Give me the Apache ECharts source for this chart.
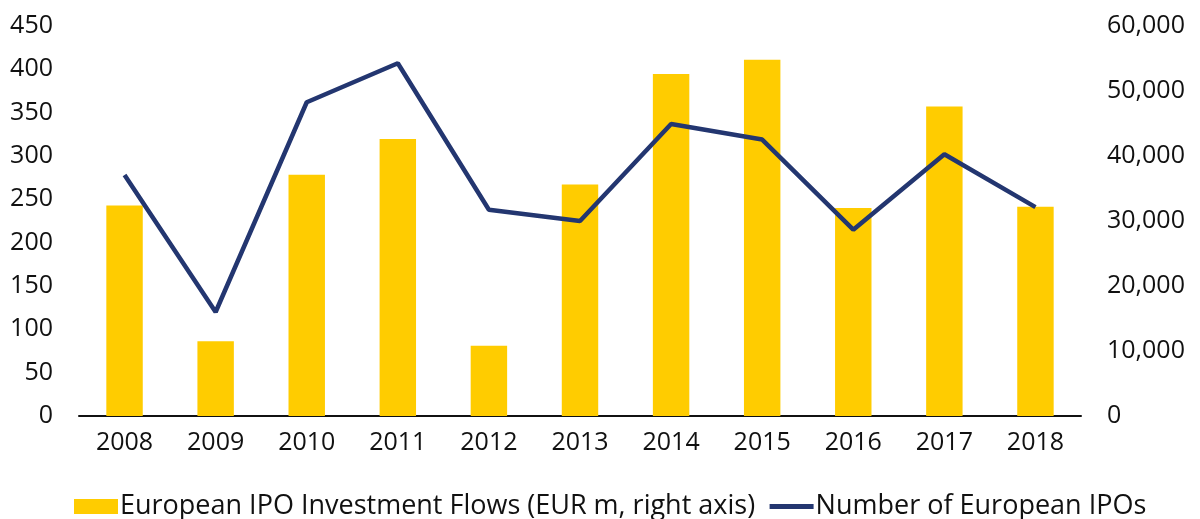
<!DOCTYPE html>
<html>
<head>
    <meta charset="UTF-8">
    <title>European IPOs</title>
    <style>
        * {
            margin: 0;
            padding: 0
        }

        #chart {
            width: 1200px;
            height: 519px;
        }
    </style>
</head>
<body>
<div id="chart"></div>
<script type="text/javascript" src="https://cdn.jsdelivr.net/npm/echarts@6/dist/echarts.min.js"></script>
<script type="text/javascript">
    // 年份
    var years = ['2008', '2009', '2010', '2011', '2012', '2013', '2014', '2015', '2016', '2017', '2018'];
    // 投资额 EUR m（右轴）
    var flows = [32400, 11500, 37100, 42600, 10800, 35600, 52600, 54800, 32000, 47600, 32200];
    // IPO 数量（左轴）
    var ipoCount = [278, 120, 362, 407, 238, 225, 337, 319, 215, 302, 241];

    var flowsName = 'European IPO Investment Flows (EUR m, right axis)';
    var countName = 'Number of European IPOs';

    var font = 'Open Sans';
    var myChart = echarts.init(document.getElementById('chart'));

    var option = {
        animation: false,
        textStyle: {
            fontFamily: font
        },
        grid: {
            left: 79,
            right: 119,
            top: 26,
            bottom: 103
        },
        legend: {
            left: 69,
            top: 488,
            itemWidth: 44,
            itemHeight: 15,
            itemGap: 12,
            textStyle: {
                fontFamily: font,
                fontSize: 27,
                color: '#111',
                padding: [0, 0, 0, -3]
            },
            data: [
                {name: flowsName, icon: 'rect'},
                {name: countName, itemStyle: {opacity: 0}, lineStyle: {width: 5}}
            ]
        },
        xAxis: {
            type: 'category',
            data: years,
            axisLine: {
                lineStyle: {color: '#111', width: 2}
            },
            axisTick: {show: false},
            axisLabel: {
                color: '#111',
                fontSize: 25,
                margin: 14
            }
        },
        yAxis: [
            {
                type: 'value',
                min: 0,
                max: 450,
                interval: 50,
                splitLine: {show: false},
                axisLine: {show: false},
                axisTick: {show: false},
                axisLabel: {
                    color: '#111',
                    fontSize: 25,
                    margin: 26
                }
            },
            {
                type: 'value',
                min: 0,
                max: 60000,
                interval: 10000,
                splitLine: {show: false},
                axisLine: {show: false},
                axisTick: {show: false},
                axisLabel: {
                    color: '#111',
                    fontSize: 25,
                    margin: 26,
                    formatter: function (v) {
                        return v.toLocaleString('en-US');
                    }
                }
            }
        ],
        series: [
            {
                name: flowsName,
                type: 'bar',
                yAxisIndex: 1,
                data: flows,
                barWidth: '40%',
                itemStyle: {color: '#FFCC00'}
            },
            {
                name: countName,
                type: 'line',
                yAxisIndex: 0,
                data: ipoCount,
                symbol: 'none',
                lineStyle: {color: '#233670', width: 4.5},
                itemStyle: {color: '#233670'}
            }
        ]
    };

    myChart.setOption(option);
</script>
</body>
</html>
